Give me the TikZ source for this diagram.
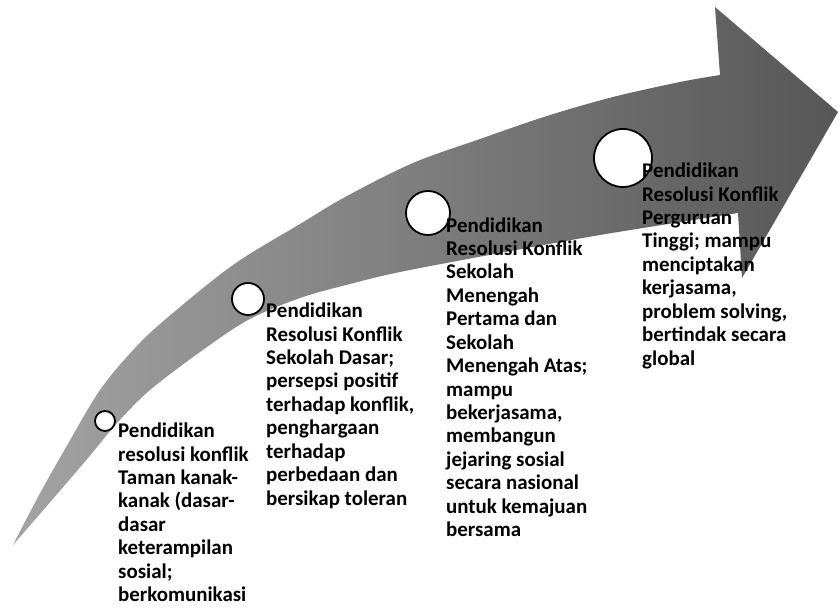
\documentclass[tikz,border=0pt]{standalone}
\usepackage{fontspec}
\setmainfont{Carlito}
\begin{document}
\begin{tikzpicture}[x=1bp,y=-1bp,
  stagecircle/.style={circle, draw=black, line width=1.8bp, fill=white, inner sep=0pt},
  stagetext/.style={anchor=base west, inner sep=0pt, align=left,
    font=\fontsize{21}{23.5}\selectfont\bfseries, text=black}]
\useasboundingbox (0,0) rectangle (840,610);
% curved arrow
\shade[left color=black!36, right color=black!66, shading angle=90]
  plot[smooth, tension=0.55] coordinates {(13,545) (38,497) (65,449) (100,390) (135,348) (167,318) (233,265) (300,224) (347,196) (413,163) (480,139) (547,116) (613,97) (680,82) (720,75)}
  -- (715,7) -- (838,112) -- (742,278) -- (738,213)
  -- plot[smooth, tension=0.55] coordinates {(738,213) (700,219) (600,235) (500,253) (400,272) (350,284) (300,298) (248,320) (200,352) (150,390) (118,422) (88,458) (52,500) (13,545)}
  -- cycle;
% circles
\node[stagecircle, minimum size=20bp] (c1) at (105,421) {};
\node[stagecircle, minimum size=32bp] (c2) at (248,299) {};
\node[stagecircle, minimum size=44bp] (c3) at (428,213) {};
\node[stagecircle, minimum size=58bp] (c4) at (623,158) {};
% texts (anchor = baseline of the last line)
\node[stagetext] (t1) at (118,601.5) {Pendidikan\\resolusi konflik\\Taman kanak-\\kanak (dasar-\\dasar\\keterampilan\\sosial;\\berkomunikasi};
\node[stagetext] (t2) at (266,505) {Pendidikan\\Resolusi Konflik\\Sekolah Dasar;\\persepsi positif\\terhadap konflik,\\penghargaan\\terhadap\\perbedaan dan\\bersikap toleran};
\node[stagetext] (t3) at (446,536.5) {Pendidikan\\Resolusi Konflik\\Sekolah\\Menengah\\Pertama dan\\Sekolah\\Menengah Atas;\\mampu\\bekerjasama,\\membangun\\jejaring sosial\\secara nasional\\untuk kemajuan\\bersama};
\node[stagetext] (t4) at (642,365) {Pendidikan\\Resolusi Konflik\\Perguruan\\Tinggi; mampu\\menciptakan\\kerjasama,\\problem solving,\\bertindak secara\\global};
\end{tikzpicture}
\end{document}
